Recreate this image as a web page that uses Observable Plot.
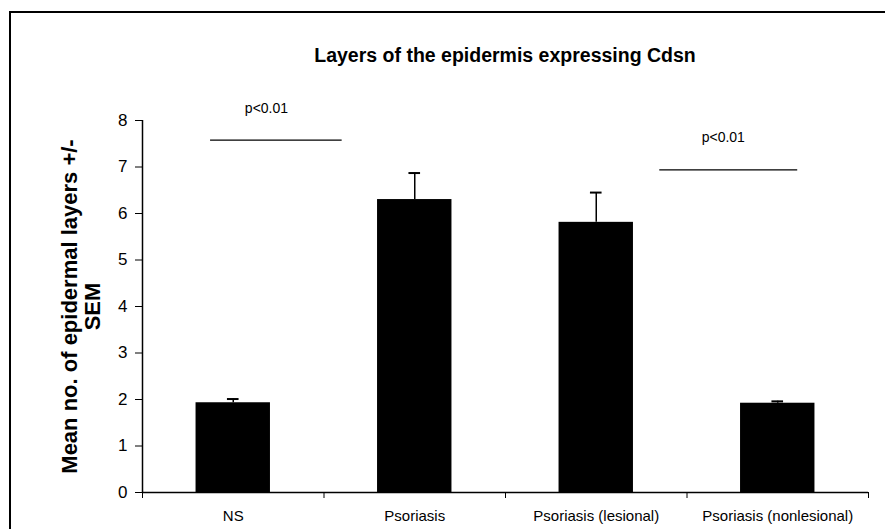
<!DOCTYPE html>
<html>
<head>
<meta charset="utf-8">
<script src="https://cdn.jsdelivr.net/npm/d3@7"></script>
<script src="https://cdn.jsdelivr.net/npm/@observablehq/plot@0.6"></script>
<style>
  html, body { margin: 0; padding: 0; background: #fff; overflow: hidden; }
  #wrap { position: relative; width: 885px; height: 529px; font-family: "Liberation Sans", Arial, sans-serif; }
  #border { position: absolute; left: 9px; top: 11px; width: 900px; height: 540px; border: 2px solid #000; box-sizing: border-box; }
  #title { position: absolute; left: 142px; width: 726px; top: 44px; text-align: center; font-weight: bold; font-size: 19.5px; color: #000; }
  #chart { position: absolute; left: 0; top: 0; }
</style>
</head>
<body>
<div id="wrap">
  <div id="border"></div>
  <div id="chart"></div>
  <div id="title">Layers of the epidermis expressing Cdsn</div>
</div>
<script>
const categories = ["NS", "Psoriasis", "Psoriasis (lesional)", "Psoriasis (nonlesional)"];
const means = [1.93, 6.30, 5.81, 1.92];
const upperErr = [2.01, 6.87, 6.45, 1.96];
const yTicks = [0, 1, 2, 3, 4, 5, 6, 7, 8];
const sigLabels = ["p<0.01", "p<0.01"];
const sigStart = [0.375, 2.85];
const sigEnd = [1.10, 3.61];
const sigLineY = [7.58, 6.94];
const sigTextX = [0.683, 3.20];
const sigTextY = [8.25, 7.64];
const yLabelLines = ["Mean no. of epidermal layers +/-", "SEM"];

const halfWidth = 0.205;
const capHalf = 0.032;
const bars = categories.map((c, i) => ({c, i, x1: i + 0.5 - halfWidth, x2: i + 0.5 + halfWidth, xc: i + 0.5, c1: i + 0.5 - capHalf, c2: i + 0.5 + capHalf, y: means[i], hi: upperErr[i]}));
const sigs = sigLabels.map((t, i) => ({t, x1: sigStart[i], x2: sigEnd[i], xt: sigTextX[i], yl: sigLineY[i], yt: sigTextY[i]}));

const chart = Plot.plot({
  width: 885,
  height: 529,
  marginLeft: 142,
  marginRight: 17,
  marginTop: 120,
  marginBottom: 37,
  style: {fontFamily: "Liberation Sans, Arial, sans-serif", background: "transparent", color: "#000"},
  x: {type: "linear", domain: [0, 4], axis: null},
  y: {type: "linear", domain: [0, 8], axis: null},
  marks: [
    Plot.rectY(bars, {x1: "x1", x2: "x2", y: "y", fill: "#000"}),
    Plot.ruleX(bars, {x: "xc", y1: "y", y2: "hi", stroke: "#000", strokeWidth: 1.5}),
    Plot.ruleY(bars, {x1: "c1", x2: "c2", y: "hi", stroke: "#000", strokeWidth: 2}),
    Plot.axisY({ticks: yTicks, tickSize: 7, tickPadding: 8, fontSize: 17, label: null, tickFormat: d => d}),
    Plot.ruleX([0], {stroke: "#000", strokeWidth: 1.5}),
    Plot.ruleY([0], {stroke: "#000", strokeWidth: 1.5}),
    Plot.axisX({ticks: [0, 1, 2, 3, 4], tickSize: 6, tickFormat: () => "", label: null}),
    Plot.axisX({ticks: bars.map(d => d.xc), tickSize: 0, tickPadding: 18, fontSize: 15, label: null, tickFormat: d => categories[Math.round(d - 0.5)]}),
    Plot.ruleY(sigs, {x1: "x1", x2: "x2", y: "yl", stroke: "#000", strokeWidth: 1.2}),
    Plot.text(sigs, {x: "xt", y: "yt", text: "t", fontSize: 14, fill: "#000"}),
    Plot.text([yLabelLines[0]], {frameAnchor: "left", textAnchor: "middle", rotate: -90, dx: -73, fontSize: 22, fontWeight: "bold", fill: "#000"}),
    Plot.text([yLabelLines[1]], {frameAnchor: "left", textAnchor: "middle", rotate: -90, dx: -50, fontSize: 22, fontWeight: "bold", fill: "#000"})
  ]
});
document.getElementById("chart").appendChild(chart);
</script>
</body>
</html>
